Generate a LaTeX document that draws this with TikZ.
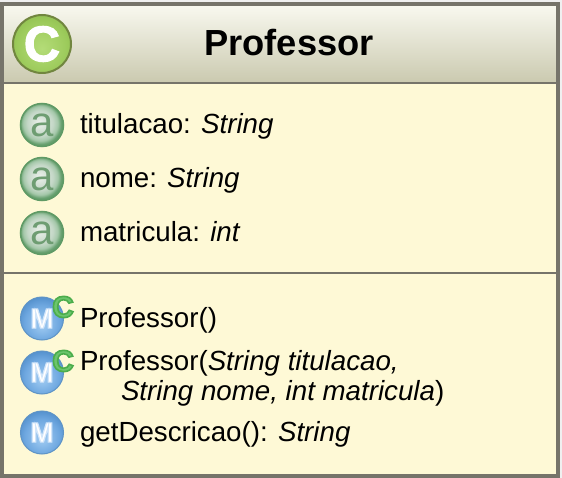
\documentclass[tikz,border=0pt]{standalone}
\usepackage{fontspec}
\setmainfont{Liberation Sans}
\usepackage{tikz}
\usetikzlibrary{positioning,calc}
\definecolor{edge}{HTML}{76746A}
\definecolor{boxbg}{HTML}{FEF9D6}
\definecolor{headtop}{HTML}{F9F9F0}
\definecolor{headbot}{HTML}{CBCAB0}
\definecolor{pagebg}{HTML}{F0F0F0}
\definecolor{classedge}{HTML}{71863F}
\definecolor{classa}{HTML}{B4DC78}
\definecolor{classb}{HTML}{9DCB5C}
\definecolor{classc}{HTML}{8CBC4C}
\definecolor{attredge}{HTML}{5F9A65}
\definecolor{attrtext}{HTML}{6E9D72}
\definecolor{attra}{HTML}{EBF0EB}
\definecolor{attrb}{HTML}{C3D7C6}
\definecolor{attrc}{HTML}{A5C8AA}
\definecolor{attrd}{HTML}{649E6C}
\definecolor{methedge}{HTML}{5F94C6}
\definecolor{metha}{HTML}{A0CBF2}
\definecolor{methb}{HTML}{6FA8E0}
\definecolor{methc}{HTML}{4A88C6}
\definecolor{ctorfill}{HTML}{6CC56C}
\pgfdeclareradialshading{classball}{\pgfpoint{0bp}{-4bp}}{color(0bp)=(classa); color(21bp)=(classb); color(32bp)=(classc); color(50bp)=(classc)}
\pgfdeclareradialshading{attrball}{\pgfpoint{-3bp}{3bp}}{color(0bp)=(attra); color(15bp)=(attrb); color(20bp)=(attrc); color(24bp)=(attrd); color(50bp)=(attrd)}
\pgfdeclareradialshading{methball}{\pgfpoint{0bp}{-8bp}}{color(0bp)=(metha); color(20bp)=(methb); color(32bp)=(methc); color(50bp)=(methc)}
% outlined glyphs for the icon letters
\newcommand{\outl}[3]{\special{pdf:code q 2 Tr #1 w #2 RG}#3\special{pdf:code Q}}
\begin{document}
\begin{tikzpicture}[x=1pt,y=-1pt,
  every node/.style={inner sep=0pt,outer sep=0pt},
  memb/.style={anchor=base west,font=\fontsize{27.7}{33}\selectfont},
  ball/.style={circle,minimum size=43pt},
  attr/.style={ball,shading=attrball,draw=attredge,line width=1.5pt,text=attrtext,font=\fontsize{42}{42}\selectfont},
  meth/.style={ball,shading=methball,draw=methedge,line width=1pt,text=white,font=\fontsize{28}{28}\selectfont\bfseries},
  ctor/.style={text=ctorfill,font=\fontsize{30}{30}\selectfont\bfseries}
]
\useasboundingbox (0,0) rectangle (562,478);
\fill[pagebg] (0,0) rectangle (562,478);
\fill[boxbg] (2,4) rectangle (558,476);
\shade[top color=headtop,bottom color=headbot] (2,4) rectangle (558,82);
\draw[edge,line width=2pt] (2,83) -- (558,83);
\draw[edge,line width=2pt] (2,273) -- (558,273);
\draw[edge,line width=4pt] (2,4) rectangle (558,476);
% header
\node[circle,minimum size=58pt,shading=classball,draw=classedge,line width=2pt,text=white,font=\fontsize{50}{50}\selectfont\bfseries] (icls) at (42,44) {\outl{1.2}{1 1 1}{C}};
\node[font=\fontsize{36.3}{42}\selectfont\bfseries] (title) at (289,43) {Professor};
% attributes
\node[attr] (ia1) at (42,125) {a};
\node[attr] (ia2) at (42,179) {a};
\node[attr] (ia3) at (42,233) {a};
\node[memb] (a1) at (80,134) {titulacao: \textit{String}};
\node[memb] (a2) at (80,188) {nome: \textit{String}};
\node[memb] (a3) at (80,242) {matricula: \textit{int}};
% methods
\node[meth] (im1) at (42,318.5) {\outl{1.2}{0.82 0.9 0.98}{M}};
\node[ctor] (ic1) at (63,307) {\outl{1.6}{0.3 0.68 0.3}{C}};
\node[meth] (im2) at (42,372.5) {\outl{1.2}{0.82 0.9 0.98}{M}};
\node[ctor] (ic2) at (63,361) {\outl{1.6}{0.3 0.68 0.3}{C}};
\node[meth] (im3) at (42,432.5) {\outl{1.2}{0.82 0.9 0.98}{M}};
\node[memb] (m1) at (80,327) {Professor()};
\node[memb] (m2) at (80,370) {Professor(\textit{String titulacao,}};
\node[memb] (m2b) at (121,400) {\textit{String nome, int matricula})};
\node[memb] (m3) at (80,441) {getDescricao(): \textit{String}};
\end{tikzpicture}
\end{document}
